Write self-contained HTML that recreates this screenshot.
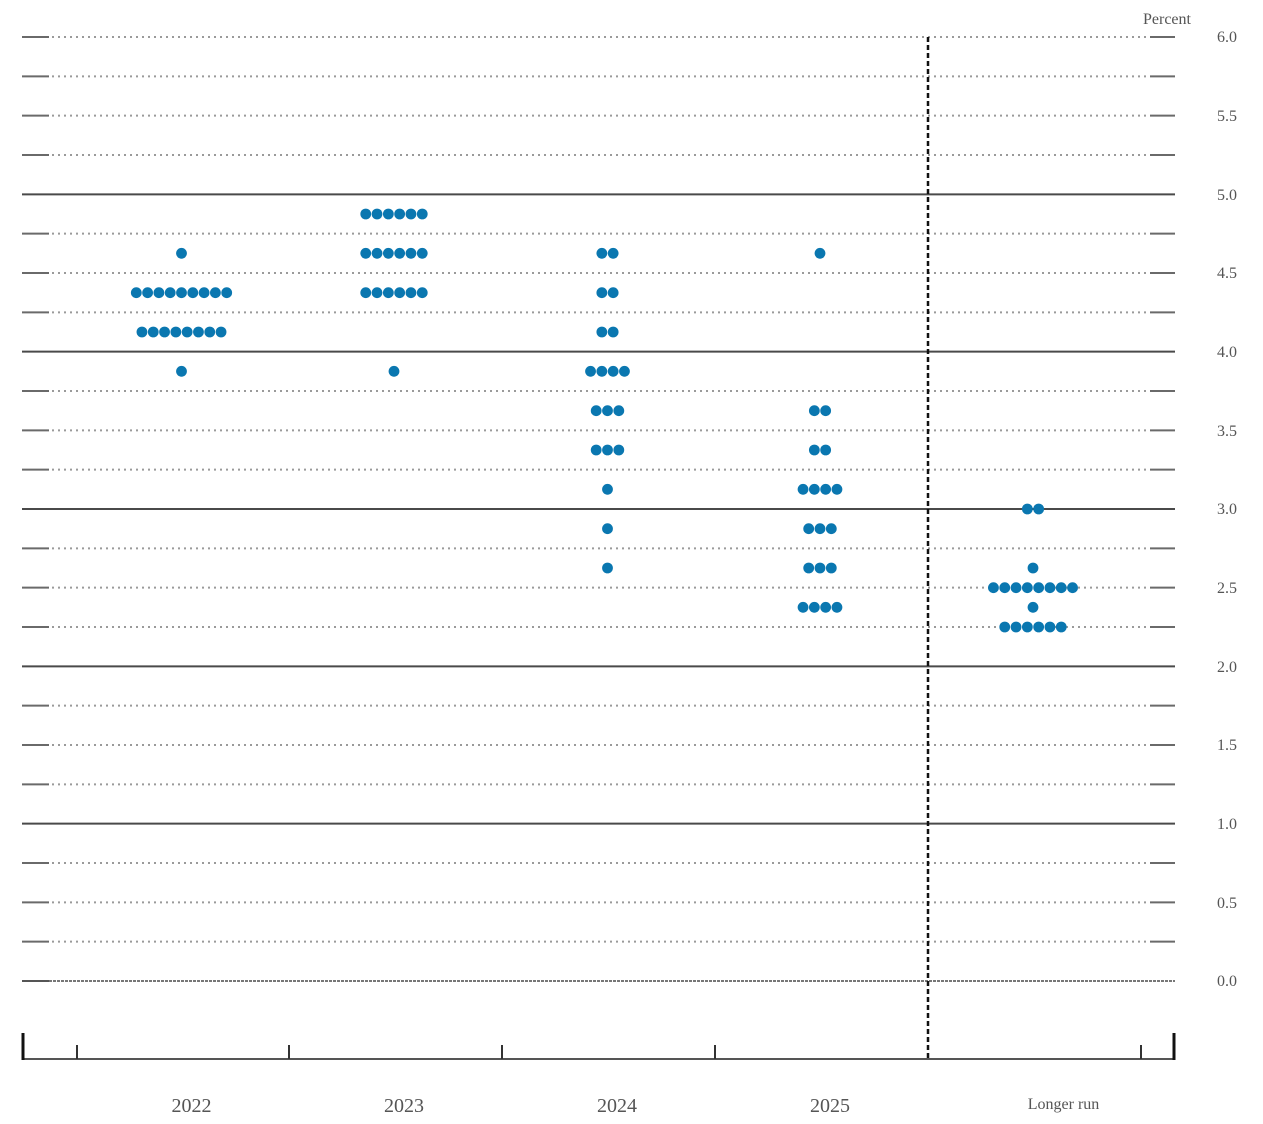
<!DOCTYPE html>
<html><head><meta charset="utf-8"><style>
html,body{margin:0;padding:0;background:#fff;}
svg{display:block;}
text{font-family:"Liberation Serif",serif;fill:#555;}
.d{fill:#0a77b0;}
</style></head><body>
<svg width="1263" height="1124" viewBox="0 0 1263 1124" xmlns="http://www.w3.org/2000/svg">
<defs>
<g id="mn">
<line x1="22" x2="49" y1="0" y2="0" stroke="#6a6a6a" stroke-width="2"/>
<line x1="52" x2="1150" y1="0" y2="0" stroke="#9a9a9a" stroke-width="2" stroke-dasharray="2 4"/>
<line x1="1150" x2="1175" y1="0" y2="0" stroke="#6a6a6a" stroke-width="2"/>
</g>
<g id="mj"><line x1="22" x2="1175" y1="0" y2="0" stroke="#4a4a4a" stroke-width="2"/></g>
</defs>
<!-- grid -->
<use href="#mn" y="37"/>
<use href="#mn" y="76.33"/>
<use href="#mn" y="115.67"/>
<use href="#mn" y="155"/>
<use href="#mj" y="194.33"/>
<use href="#mn" y="233.67"/>
<use href="#mn" y="273"/>
<use href="#mn" y="312.33"/>
<use href="#mj" y="351.67"/>
<use href="#mn" y="391"/>
<use href="#mn" y="430.33"/>
<use href="#mn" y="469.67"/>
<use href="#mj" y="509"/>
<use href="#mn" y="548.33"/>
<use href="#mn" y="587.67"/>
<use href="#mn" y="627"/>
<use href="#mj" y="666.33"/>
<use href="#mn" y="705.67"/>
<use href="#mn" y="745"/>
<use href="#mn" y="784.33"/>
<use href="#mj" y="823.67"/>
<use href="#mn" y="863"/>
<use href="#mn" y="902.33"/>
<use href="#mn" y="941.67"/>
<line x1="22" x2="49" y1="981" y2="981" stroke="#555" stroke-width="2"/>
<line x1="49" x2="1175" y1="981" y2="981" stroke="#777" stroke-width="2" stroke-dasharray="3 1"/>

<!-- right labels -->
<text x="1143" y="24" font-size="16">Percent</text>
<text x="1217" y="42" font-size="16">6.0</text>
<text x="1217" y="121" font-size="16">5.5</text>
<text x="1217" y="200" font-size="16">5.0</text>
<text x="1217" y="278" font-size="16">4.5</text>
<text x="1217" y="357" font-size="16">4.0</text>
<text x="1217" y="436" font-size="16">3.5</text>
<text x="1217" y="514" font-size="16">3.0</text>
<text x="1217" y="593" font-size="16">2.5</text>
<text x="1217" y="672" font-size="16">2.0</text>
<text x="1217" y="750" font-size="16">1.5</text>
<text x="1217" y="829" font-size="16">1.0</text>
<text x="1217" y="908" font-size="16">0.5</text>
<text x="1217" y="986" font-size="16">0.0</text>

<!-- vertical dashed -->
<line x1="928" x2="928" y1="37" y2="1059" stroke="#111" stroke-width="2.5" stroke-dasharray="5 3"/>

<!-- bottom axis -->
<line x1="22" x2="1175" y1="1059" y2="1059" stroke="#555" stroke-width="2"/>
<line x1="23" x2="23" y1="1033" y2="1060" stroke="#111" stroke-width="3"/>
<line x1="1174" x2="1174" y1="1033" y2="1060" stroke="#111" stroke-width="3"/>
<line x1="77" x2="77" y1="1045" y2="1059" stroke="#333" stroke-width="2"/>
<line x1="289" x2="289" y1="1045" y2="1059" stroke="#333" stroke-width="2"/>
<line x1="502" x2="502" y1="1045" y2="1059" stroke="#333" stroke-width="2"/>
<line x1="715" x2="715" y1="1045" y2="1059" stroke="#333" stroke-width="2"/>
<line x1="1141" x2="1141" y1="1045" y2="1059" stroke="#333" stroke-width="2"/>

<text x="191.5" y="1112" font-size="20" text-anchor="middle">2022</text>
<text x="404" y="1112" font-size="20" text-anchor="middle">2023</text>
<text x="617" y="1112" font-size="20" text-anchor="middle">2024</text>
<text x="830" y="1112" font-size="20" text-anchor="middle">2025</text>
<text x="1063.5" y="1109" font-size="16" text-anchor="middle">Longer run</text>

<!-- dots 2022 -->
<g class="d">
<circle cx="181.5" cy="253.3" r="5.4"/>
<circle cx="136.3" cy="292.7" r="5.4"/><circle cx="147.6" cy="292.7" r="5.4"/><circle cx="158.9" cy="292.7" r="5.4"/><circle cx="170.2" cy="292.7" r="5.4"/><circle cx="181.5" cy="292.7" r="5.4"/><circle cx="192.8" cy="292.7" r="5.4"/><circle cx="204.1" cy="292.7" r="5.4"/><circle cx="215.4" cy="292.7" r="5.4"/><circle cx="226.7" cy="292.7" r="5.4"/>
<circle cx="141.95" cy="332" r="5.4"/><circle cx="153.25" cy="332" r="5.4"/><circle cx="164.55" cy="332" r="5.4"/><circle cx="175.85" cy="332" r="5.4"/><circle cx="187.15" cy="332" r="5.4"/><circle cx="198.45" cy="332" r="5.4"/><circle cx="209.75" cy="332" r="5.4"/><circle cx="221.05" cy="332" r="5.4"/>
<circle cx="181.5" cy="371.3" r="5.4"/>

<!-- 2023 -->
<circle cx="365.75" cy="214" r="5.4"/><circle cx="377.05" cy="214" r="5.4"/><circle cx="388.35" cy="214" r="5.4"/><circle cx="399.65" cy="214" r="5.4"/><circle cx="410.95" cy="214" r="5.4"/><circle cx="422.25" cy="214" r="5.4"/>
<circle cx="365.75" cy="253.3" r="5.4"/><circle cx="377.05" cy="253.3" r="5.4"/><circle cx="388.35" cy="253.3" r="5.4"/><circle cx="399.65" cy="253.3" r="5.4"/><circle cx="410.95" cy="253.3" r="5.4"/><circle cx="422.25" cy="253.3" r="5.4"/>
<circle cx="365.75" cy="292.7" r="5.4"/><circle cx="377.05" cy="292.7" r="5.4"/><circle cx="388.35" cy="292.7" r="5.4"/><circle cx="399.65" cy="292.7" r="5.4"/><circle cx="410.95" cy="292.7" r="5.4"/><circle cx="422.25" cy="292.7" r="5.4"/>
<circle cx="394" cy="371.3" r="5.4"/>

<!-- 2024 -->
<circle cx="601.85" cy="253.3" r="5.4"/><circle cx="613.15" cy="253.3" r="5.4"/>
<circle cx="601.85" cy="292.7" r="5.4"/><circle cx="613.15" cy="292.7" r="5.4"/>
<circle cx="601.85" cy="332" r="5.4"/><circle cx="613.15" cy="332" r="5.4"/>
<circle cx="590.55" cy="371.3" r="5.4"/><circle cx="601.85" cy="371.3" r="5.4"/><circle cx="613.15" cy="371.3" r="5.4"/><circle cx="624.45" cy="371.3" r="5.4"/>
<circle cx="596.2" cy="410.7" r="5.4"/><circle cx="607.5" cy="410.7" r="5.4"/><circle cx="618.8" cy="410.7" r="5.4"/>
<circle cx="596.2" cy="450" r="5.4"/><circle cx="607.5" cy="450" r="5.4"/><circle cx="618.8" cy="450" r="5.4"/>
<circle cx="607.5" cy="489.3" r="5.4"/>
<circle cx="607.5" cy="528.7" r="5.4"/>
<circle cx="607.5" cy="568" r="5.4"/>

<!-- 2025 -->
<circle cx="820" cy="253.3" r="5.4"/>
<circle cx="814.35" cy="410.7" r="5.4"/><circle cx="825.65" cy="410.7" r="5.4"/>
<circle cx="814.35" cy="450" r="5.4"/><circle cx="825.65" cy="450" r="5.4"/>
<circle cx="803.05" cy="489.3" r="5.4"/><circle cx="814.35" cy="489.3" r="5.4"/><circle cx="825.65" cy="489.3" r="5.4"/><circle cx="836.95" cy="489.3" r="5.4"/>
<circle cx="808.7" cy="528.7" r="5.4"/><circle cx="820" cy="528.7" r="5.4"/><circle cx="831.3" cy="528.7" r="5.4"/>
<circle cx="808.7" cy="568" r="5.4"/><circle cx="820" cy="568" r="5.4"/><circle cx="831.3" cy="568" r="5.4"/>
<circle cx="803.05" cy="607.3" r="5.4"/><circle cx="814.35" cy="607.3" r="5.4"/><circle cx="825.65" cy="607.3" r="5.4"/><circle cx="836.95" cy="607.3" r="5.4"/>

<!-- Longer run -->
<circle cx="1027.35" cy="509" r="5.4"/><circle cx="1038.65" cy="509" r="5.4"/>
<circle cx="1033" cy="568" r="5.4"/>
<circle cx="993.45" cy="587.7" r="5.4"/><circle cx="1004.75" cy="587.7" r="5.4"/><circle cx="1016.05" cy="587.7" r="5.4"/><circle cx="1027.35" cy="587.7" r="5.4"/><circle cx="1038.65" cy="587.7" r="5.4"/><circle cx="1049.95" cy="587.7" r="5.4"/><circle cx="1061.25" cy="587.7" r="5.4"/><circle cx="1072.55" cy="587.7" r="5.4"/>
<circle cx="1033" cy="607.3" r="5.4"/>
<circle cx="1004.75" cy="627" r="5.4"/><circle cx="1016.05" cy="627" r="5.4"/><circle cx="1027.35" cy="627" r="5.4"/><circle cx="1038.65" cy="627" r="5.4"/><circle cx="1049.95" cy="627" r="5.4"/><circle cx="1061.25" cy="627" r="5.4"/>
</g>
</svg>
</body></html>
